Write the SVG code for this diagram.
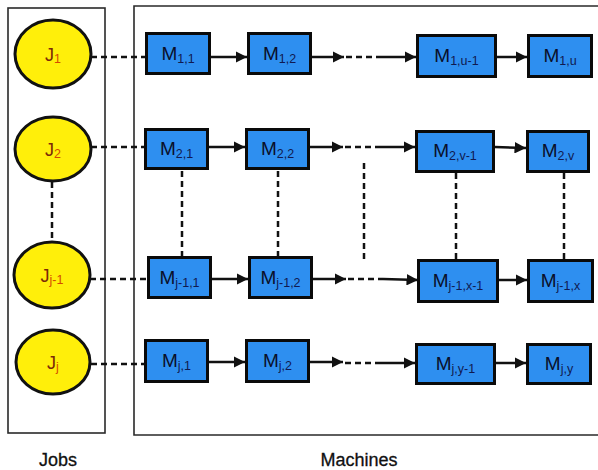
<svg xmlns="http://www.w3.org/2000/svg" width="598" height="470" viewBox="0 0 598 470">
<defs>
<style>
.frame{fill:none;stroke:#2a2a2a;stroke-width:1.6}
.job ellipse{fill:#FFEF0A;stroke:#111;stroke-width:3}
.jt{font-family:"Liberation Sans",Arial,sans-serif;font-size:18px;fill:#7a2a08;text-anchor:middle}
.js{font-size:12.5px;fill:#d44a00}
.mach rect{fill:#2E8FF0;stroke:#0a0a0a;stroke-width:3}
.mt{font-family:"Liberation Sans",Arial,sans-serif;font-size:19px;fill:#0a0f2a;text-anchor:middle}
.ms{font-size:12.5px;fill:#101a50}
.lbl{font-family:"Liberation Sans",Arial,sans-serif;font-size:18px;fill:#111;text-anchor:middle;stroke:#111;stroke-width:0.3}
.dash{fill:none;stroke:#111;stroke-width:2.5;stroke-dasharray:6 4}
.arr{fill:none;stroke:#111;stroke-width:2.5;marker-end:url(#ah)}
</style>
<marker id="ah" viewBox="0 0 10 10" refX="10" refY="5" markerWidth="4.6" markerHeight="4.6" markerUnits="strokeWidth" orient="auto">
<path d="M0,0 L10,5 L0,10 z" fill="#111"/>
</marker>
</defs>

<rect class="frame" x="8" y="8" width="97" height="425"/>
<path class="frame" d="M600,6 H134 V435 H600" stroke-width="2"/>
<text class="lbl" x="58" y="466">Jobs</text>
<text class="lbl" x="359" y="466">Machines</text>

<g id="connectors">
<line class="dash" x1="91" y1="57" x2="146" y2="57"/>
<line class="dash" x1="91" y1="147" x2="144" y2="147"/>
<line class="dash" x1="90" y1="279" x2="147" y2="279"/>
<line class="dash" x1="91" y1="364" x2="144" y2="364"/>
<line class="dash" x1="52" y1="182" x2="52" y2="242"/>

<line class="arr" x1="211" y1="57" x2="247" y2="57"/>
<line class="arr" x1="312" y1="57" x2="344" y2="57"/>
<line class="dash" x1="346" y1="57" x2="382" y2="57" stroke-dasharray="7 4 7 4 7 3 2 3"/>
<line class="arr" x1="382" y1="57" x2="416" y2="57"/>
<line class="arr" x1="497" y1="57" x2="527" y2="57"/>

<line class="arr" x1="209" y1="147" x2="245" y2="147"/>
<line class="arr" x1="310" y1="147" x2="343" y2="147"/>
<line class="dash" x1="345" y1="147" x2="381" y2="147" stroke-dasharray="7 4 7 4 7 3 2 3"/>
<line class="arr" x1="381" y1="147" x2="415" y2="147"/>
<line class="arr" x1="495" y1="147" x2="526" y2="148"/>

<line class="arr" x1="212" y1="279" x2="248" y2="279"/>
<line class="arr" x1="313" y1="279" x2="346" y2="279"/>
<line class="dash" x1="348" y1="279" x2="383" y2="279" stroke-dasharray="7 4 7 4 7 3 2 3"/>
<line class="arr" x1="383" y1="279" x2="418" y2="280"/>
<line class="arr" x1="499" y1="280" x2="527" y2="280"/>

<line class="arr" x1="209" y1="362" x2="245" y2="362"/>
<line class="arr" x1="310" y1="362" x2="343" y2="362"/>
<line class="dash" x1="345" y1="363" x2="381" y2="363" stroke-dasharray="7 4 7 4 7 3 2 3"/>
<line class="arr" x1="381" y1="363" x2="415" y2="363"/>
<line class="arr" x1="496" y1="363" x2="526" y2="363"/>

<line class="dash" x1="182" y1="171" x2="182" y2="256"/>
<line class="dash" x1="278" y1="171" x2="278" y2="256"/>
<line class="dash" x1="364" y1="163" x2="364" y2="262"/>
<line class="dash" x1="456" y1="173" x2="456" y2="259"/>
<line class="dash" x1="564" y1="173" x2="564" y2="259"/>
</g>

<g id="J1" class="job"><ellipse cx="53" cy="54" rx="38" ry="34"/><text class="jt" x="53" y="61">J<tspan class="js" dy="2">1</tspan></text></g>
<g id="J2" class="job"><ellipse cx="53" cy="149" rx="38" ry="32"/><text class="jt" x="53" y="156">J<tspan class="js" dy="2">2</tspan></text></g>
<g id="Jj-1" class="job"><ellipse cx="52" cy="275" rx="38" ry="33"/><text class="jt" x="52" y="282">J<tspan class="js" dy="2">j-1</tspan></text></g>
<g id="Jj" class="job"><ellipse cx="53" cy="362" rx="37" ry="32"/><text class="jt" x="53" y="369">J<tspan class="js" dy="2">j</tspan></text></g>

<g id="M1_1" class="mach"><rect x="146.5" y="33.5" width="63" height="40"/><text class="mt" x="178" y="60">M<tspan class="ms" dy="3">1,1</tspan></text></g>
<g id="M1_2" class="mach"><rect x="248.5" y="33.5" width="62" height="40"/><text class="mt" x="279.5" y="60">M<tspan class="ms" dy="3">1,2</tspan></text></g>
<g id="M1_u-1" class="mach"><rect x="417.5" y="35.5" width="78" height="41"/><text class="mt" x="456.5" y="62">M<tspan class="ms" dy="3">1,u-1</tspan></text></g>
<g id="M1_u" class="mach"><rect x="528.5" y="35.5" width="63" height="41"/><text class="mt" x="560" y="62">M<tspan class="ms" dy="3">1,u</tspan></text></g>

<g id="M2_1" class="mach"><rect x="145.5" y="129.5" width="62" height="39"/><text class="mt" x="176.5" y="155">M<tspan class="ms" dy="3">2,1</tspan></text></g>
<g id="M2_2" class="mach"><rect x="246.5" y="129.5" width="62" height="39"/><text class="mt" x="277.5" y="155">M<tspan class="ms" dy="3">2,2</tspan></text></g>
<g id="M2_v-1" class="mach"><rect x="416.5" y="131.5" width="77" height="40"/><text class="mt" x="455" y="157">M<tspan class="ms" dy="3">2,v-1</tspan></text></g>
<g id="M2_v" class="mach"><rect x="527.5" y="131.5" width="61" height="40"/><text class="mt" x="558" y="157">M<tspan class="ms" dy="3">2,v</tspan></text></g>

<g id="Mj-1_1" class="mach"><rect x="148.5" y="257.5" width="62" height="40"/><text class="mt" x="179.5" y="284">M<tspan class="ms" dy="3">j-1,1</tspan></text></g>
<g id="Mj-1_2" class="mach"><rect x="249.5" y="257.5" width="62" height="40"/><text class="mt" x="280.5" y="284">M<tspan class="ms" dy="3">j-1,2</tspan></text></g>
<g id="Mj-1_x-1" class="mach"><rect x="418.5" y="260.5" width="79" height="41"/><text class="mt" x="458" y="287">M<tspan class="ms" dy="3">j-1,x-1</tspan></text></g>
<g id="Mj-1_x" class="mach"><rect x="528.5" y="260.5" width="64" height="41"/><text class="mt" x="560.5" y="287">M<tspan class="ms" dy="3">j-1,x</tspan></text></g>

<g id="Mj_1" class="mach"><rect x="145.5" y="340.5" width="62" height="41"/><text class="mt" x="176.5" y="367">M<tspan class="ms" dy="3">j,1</tspan></text></g>
<g id="Mj_2" class="mach"><rect x="246.5" y="340.5" width="62" height="41"/><text class="mt" x="277.5" y="367">M<tspan class="ms" dy="3">j,2</tspan></text></g>
<g id="Mj_y-1" class="mach"><rect x="416.5" y="344.5" width="78" height="39"/><text class="mt" x="455.5" y="370">M<tspan class="ms" dy="3">j,y-1</tspan></text></g>
<g id="Mj_y" class="mach"><rect x="527.5" y="344.5" width="63" height="39"/><text class="mt" x="559" y="370">M<tspan class="ms" dy="3">j,y</tspan></text></g>
</svg>
